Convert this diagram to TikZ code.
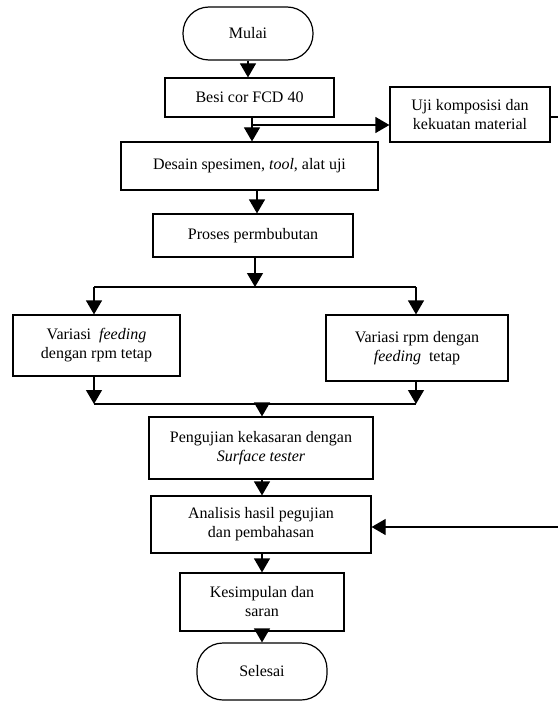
\documentclass[tikz,border=0pt]{standalone}
\usepackage{fontspec}
\setmainfont{Liberation Serif}
\usetikzlibrary{arrows.meta,calc}
\tikzset{
  box/.style={draw, line width=1.2bp, align=center, inner sep=2bp, font=\fontsize{16bp}{19bp}\selectfont},
  term/.style={box, rounded corners=26bp},
  arr/.style={line width=1.2bp, -{Triangle[width=16bp,length=14bp]}},
  ln/.style={line width=1.2bp}
}
\begin{document}
\begin{tikzpicture}[x=1bp,y=-1bp]
\useasboundingbox (0,0) rectangle (558,702);
\node[term, minimum width=130bp, minimum height=53bp] (mulai) at (248,33.5) {Mulai};
\node[box, minimum width=169bp, minimum height=39bp] (besi) at (249.5,97.5) {Besi cor FCD 40};
\node[box, minimum width=160bp, minimum height=55bp] (uji) at (470,114.5) {Uji komposisi dan\\kekuatan material};
\node[box, minimum width=257bp, minimum height=48bp] (desain) at (249.5,166) {Desain spesimen, \textit{tool}, alat uji};
\node[box, minimum width=200bp, minimum height=43bp] (proses) at (253,235.5) {Proses permbubutan};
\node[box, minimum width=167bp, minimum height=61bp] (vf) at (96.5,345.5) {Variasi \ \textit{feeding}\\dengan rpm tetap};
\node[box, minimum width=182bp, minimum height=66bp] (vr) at (417,348) {Variasi rpm dengan\\\textit{feeding} \ tetap};
\node[box, minimum width=224bp, minimum height=62bp] (peng) at (261,448) {Pengujian kekasaran dengan\\\textit{Surface tester}};
\node[box, minimum width=220bp, minimum height=57bp] (anal) at (261,524.5) {Analisis hasil pegujian\\dan pembahasan};
\node[box, minimum width=164bp, minimum height=58bp] (kes) at (262,602) {Kesimpulan dan\\saran};
\node[term, minimum width=130bp, minimum height=57bp] (selesai) at (262,671.5) {Selesai};

\coordinate (j1) at (252,125);
\coordinate (b1) at (94,287);
\coordinate (b2) at (416,287);
\coordinate (bc) at (255,287);
\coordinate (m1) at (94,404);
\coordinate (m2) at (416,404);
\coordinate (mc) at (262,404);
\coordinate (r1) at (558,117);
\coordinate (r2) at (558,527);

\draw[arr] (mulai.south) -- (mulai.south |- besi.north);
\draw[ln] (besi.south -| j1) -- (j1);
\draw[arr] (j1) -- (j1 |- desain.north);
\draw[arr] (j1) -- (j1 -| uji.west);
\draw[ln] (uji.east |- r1) -- (r1);
\draw[arr] (desain.south -| 257,0) -- (proses.north -| 257,0);
\draw[arr] (proses.south -| bc) -- (bc);
\draw[ln] (b1) -- (b2);
\draw[arr] (b1) -- (b1 |- vf.north);
\draw[arr] (b2) -- (b2 |- vr.north);
\draw[arr] (vf.south -| m1) -- (m1);
\draw[arr] (vr.south -| m2) -- (m2);
\draw[ln] (m1) -- (m2);
\draw[arr] (mc) -- (mc |- peng.north);
\draw[arr] (peng.south -| mc) -- (anal.north -| mc);
\draw[arr] (r2) -- (r2 -| anal.east);
\draw[arr] (anal.south -| mc) -- (kes.north -| mc);
\draw[arr] (kes.south -| mc) -- (selesai.north -| mc);
\end{tikzpicture}
\end{document}
